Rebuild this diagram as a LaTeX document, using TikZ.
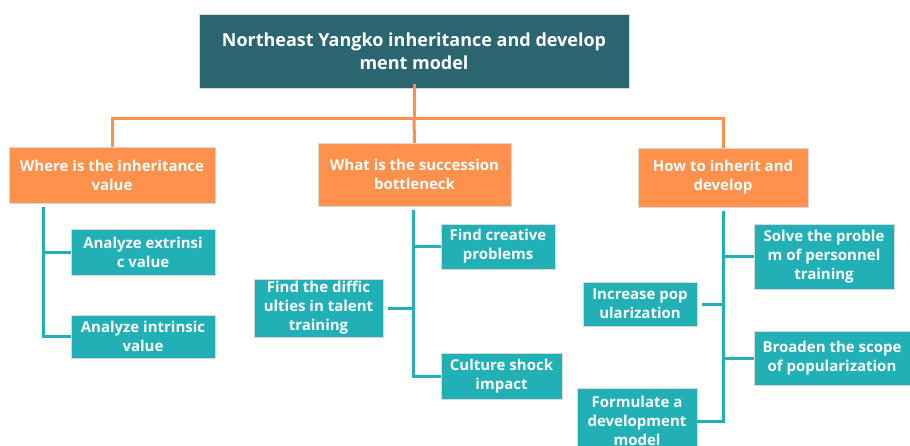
\documentclass[tikz,border=0pt]{standalone}
\usepackage{fontspec}
\setmainfont{Open Sans}
\definecolor{rootc}{HTML}{2B6670}
\definecolor{orng}{HTML}{FF914D}
\definecolor{teal2}{HTML}{21B0B6}
\begin{document}
\begin{tikzpicture}[x=1pt,y=-1pt,
  box/.style={inner sep=0pt, align=center, text=white, font=\bfseries\fontsize{15}{19}\selectfont, draw=white!85!black, line width=0.4pt},
  rootbox/.style={box, fill=rootc, font=\bfseries\fontsize{18}{23}\selectfont},
  obox/.style={box, fill=orng},
  tbox/.style={box, fill=teal2},
  oline/.style={draw=orng, line width=3pt},
  tline/.style={draw=teal2, line width=3pt}]
\useasboundingbox (0,0) rectangle (910,445);
\clip (0,0) rectangle (910,445);
% root
\node[rootbox, minimum width=430pt, minimum height=74pt] (root) at (414,51) {Northeast Yangko inheritance and develop\\ment model};
% level 1
\node[obox, minimum width=206pt, minimum height=56pt] (o1) at (112,175) {Where is the inheritance\\value};
\node[obox, minimum width=193pt, minimum height=63pt] (o2) at (414.5,174.5) {What is the succession\\bottleneck};
\node[obox, minimum width=170pt, minimum height=59pt] (o3) at (723,177.5) {How to inherit and\\develop};
% level 2
\node[tbox, minimum width=144pt, minimum height=46pt] (a1) at (143,252) {Analyze extrinsi\\c value};
\node[tbox, minimum width=144pt, minimum height=43pt] (a2) at (143,336.5) {Analyze intrinsic\\value};
\node[tbox, minimum width=114pt, minimum height=45pt] (b1) at (498,246.5) {Find creative\\problems};
\node[tbox, minimum width=129pt, minimum height=58pt] (b2) at (318.5,308) {Find the diffic\\ulties in talent\\training};
\node[tbox, minimum width=121pt, minimum height=46pt] (b3) at (501.5,376) {Culture shock\\impact};
\node[tbox, minimum width=140pt, minimum height=65pt] (c1) at (824,256.5) {Solve the proble\\m of personnel\\training};
\node[tbox, minimum width=114pt, minimum height=44pt] (c2) at (640,304) {Increase pop\\ularization};
\node[tbox, minimum width=156pt, minimum height=54pt] (c3) at (832,358) {Broaden the scope\\of popularization};
\node[tbox, minimum width=120pt, minimum height=66pt] (c4) at (637,421) {Formulate a\\development\\model};
% orange connectors
\coordinate (bus) at (414,118);
\draw[oline] ([yshift=4pt]root.south) -- (bus);
\draw[oline] (o1.north) |- (bus) -| (o3.north);
\draw[oline] (bus) -- (o2.north);
% teal connectors
\coordinate (ta) at (43,207);
\coordinate (tb) at (413,210);
\coordinate (tc) at (723,211);
\draw[tline] (ta) |- (a2.west);
\draw[tline] (ta |- a1.west) -- (a1.west);
\draw[tline] (tb) |- (b3.west);
\draw[tline] (tb |- b1.west) -- (b1.west);
\draw[tline] (tb |- b2.east) -- ([xshift=5pt]b2.east);
\draw[tline] (tc) |- ([xshift=-5pt]c4.east);
\draw[tline] (tc |- c1.west) -- (c1.west);
\draw[tline] (tc |- c3.west) -- (c3.west);
\draw[tline] (tc |- c2.east) -- ([xshift=5pt]c2.east);
\end{tikzpicture}
\end{document}
